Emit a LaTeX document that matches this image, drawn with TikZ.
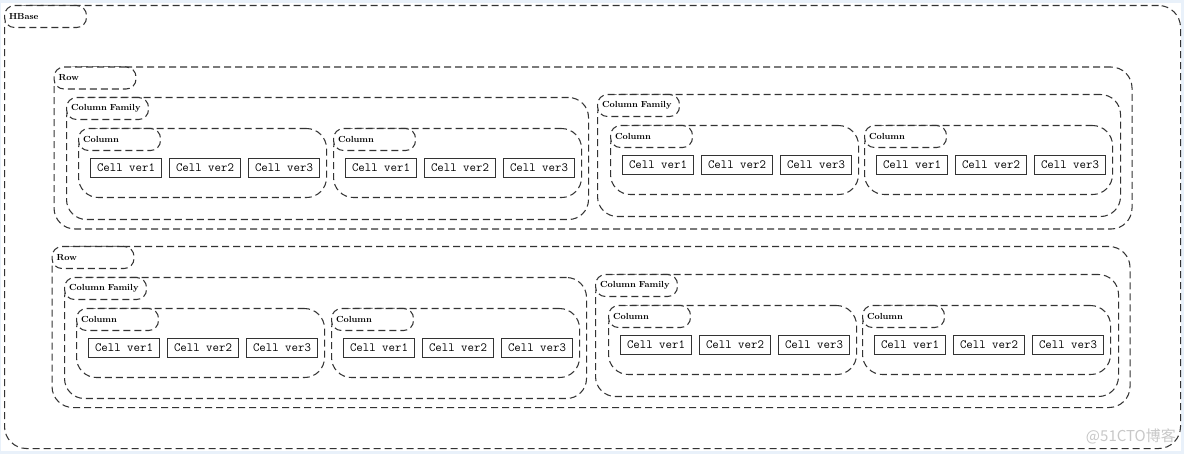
\documentclass[tikz,border=0pt]{standalone}
\usepackage{fontspec}
\newfontfamily\wmfont{Noto Sans CJK SC}
\usetikzlibrary{calc}
\definecolor{bgblue}{HTML}{E9F1FA}
\definecolor{linegray}{HTML}{333333}
\definecolor{wmgray}{HTML}{C8C8C8}
\tikzset{
 grpbox/.style={draw=linegray, line width=1.05pt, dash pattern=on 7pt off 4pt, rounded corners=20pt, anchor=north west, inner sep=0pt},
 tabbox/.style={draw=linegray, fill=white, line width=1.05pt, dash pattern=on 7pt off 4pt, rounded corners=10pt, anchor=north west, minimum height=22pt, text width=73pt, inner xsep=4.5pt, inner ysep=0pt, align=left, font=\fontsize{8.8}{10}\selectfont\bfseries},
 cellbox/.style={draw=linegray, line width=1pt, anchor=north west, minimum width=71pt, minimum height=19pt, inner sep=0pt, font=\ttfamily\fontsize{12.5}{14}\selectfont},
}
\newcommand\hbgroup[7]{%
 \node[grpbox, minimum width=#4pt, minimum height=#5pt, rounded corners=#7pt] (#1) at (#2,#3) {};
 \node[tabbox] (#1tab) at (#1.north west) {#6};}
\newcommand\hbcolumn[3]{%
 \hbgroup{#1}{#2}{#3}{248}{69}{Column}{20}
 \node[cellbox] (#1c1) at ($(#1.north west)+(12,30)$) {Cell ver1};
 \node[cellbox] (#1c2) at ($(#1c1.north west)+(79,0)$) {Cell ver2};
 \node[cellbox] (#1c3) at ($(#1c2.north west)+(79,0)$) {Cell ver3};}
\begin{document}
\begin{tikzpicture}[x=1pt,y=-1pt]
\useasboundingbox (0,0) rectangle (1184,454);
\fill[bgblue] (0,0) rectangle (1184,454);
\fill[white] (1,3) rectangle (1181,451);
% HBase
\hbgroup{hbase}{4}{5}{1176}{443}{HBase}{22}
% Row 1
\hbgroup{rowA}{53.5}{66.5}{1078}{162}{Row}{21}
\hbgroup{cfA}{66}{97}{522}{122}{Column Family}{20}
\hbcolumn{colA}{78}{128}
\hbcolumn{colB}{333}{128}
\hbgroup{cfB}{597}{94}{523}{122}{Column Family}{20}
\hbcolumn{colC}{610}{125}
\hbcolumn{colD}{864}{125}
% Row 2
\hbgroup{rowB}{51.5}{246}{1078}{161}{Row}{21}
\hbgroup{cfC}{64}{277}{522}{121}{Column Family}{20}
\hbcolumn{colE}{76}{308}
\hbcolumn{colF}{331}{308}
\hbgroup{cfD}{595}{274}{523}{122}{Column Family}{20}
\hbcolumn{colG}{608}{305}
\hbcolumn{colH}{862}{305}
% watermark
\node[anchor=east, text=wmgray, inner sep=0pt, font=\wmfont\fontsize{15}{17}\selectfont] (wm) at (1176,436) {@51CTO博客};
\end{tikzpicture}
\end{document}
